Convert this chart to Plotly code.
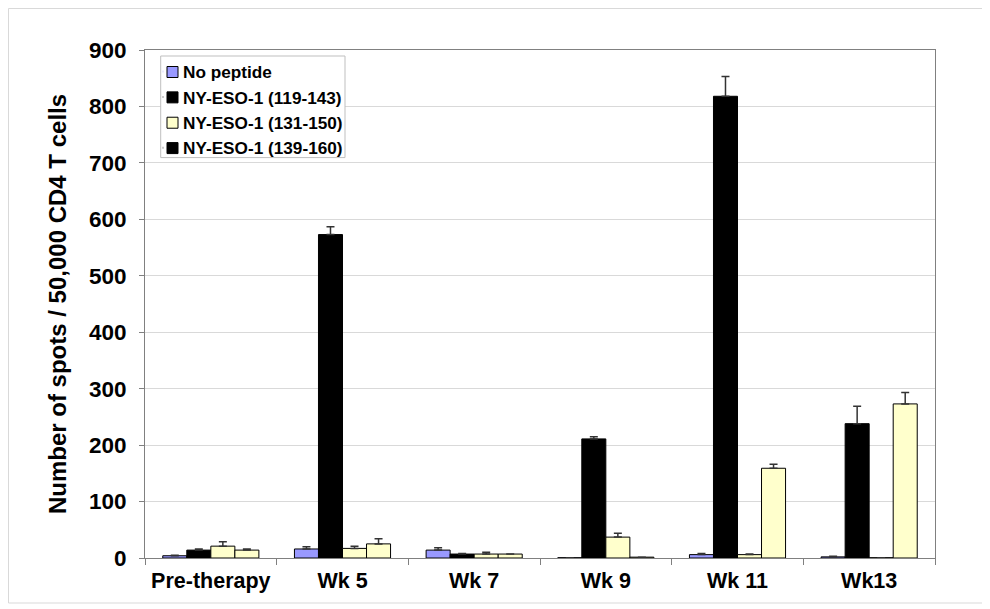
import plotly.graph_objects as go

categories = ["Pre-therapy", "Wk 5", "Wk 7", "Wk 9", "Wk 11", "Wk13"]
series_names = ["No peptide", "NY-ESO-1 (119-143)", "NY-ESO-1 (131-150)", "NY-ESO-1 (139-160)"]

no_peptide = [4, 16, 14, 0.5, 6, 2]
no_peptide_err = [1, 4, 4, 0, 2, 1]
ny_119_143 = [14, 573, 7, 211, 818, 238]
ny_119_143_err = [2, 14, 1, 4, 35, 31]
ny_131_150 = [21, 17, 7, 37, 6, 0.5]
ny_131_150_err = [8, 4, 3, 7, 1, 0]
ny_139_160 = [14, 25, 7, 1.5, 159, 273]
ny_139_160_err = [2, 9, 0, 0, 7, 20]

y_ticks = [0, 100, 200, 300, 400, 500, 600, 700, 800, 900]

bar_colors = ["#9999FF", "#000000", "#FFFFCC", "#FFFFCC"]
legend_colors = ["#9999FF", "#000000", "#FFFFCC", "#000000"]

values = [no_peptide, ny_119_143, ny_131_150, ny_139_160]
errors = [no_peptide_err, ny_119_143_err, ny_131_150_err, ny_139_160_err]

FONT = "Liberation Sans, Arial, sans-serif"
LEG_FONT = 17.2

fig = go.Figure()
for i, (name, vals, errs) in enumerate(zip(series_names, values, errors)):
    fig.add_trace(go.Bar(
        x=categories, y=vals, name=name, showlegend=False,
        marker=dict(color=bar_colors[i], line=dict(color="#000000", width=1)),
        error_y=dict(type="data", array=errs, arrayminus=[0] * len(errs),
                     symmetric=False, color="#333333", thickness=1.5, width=4),
    ))

# legend text entries (swatches drawn below as shapes, like the original)
for i, name in enumerate(series_names):
    fig.add_trace(go.Scatter(
        x=[None], y=[None], name=name, mode="markers",
        marker=dict(symbol="square", size=1, opacity=0, color=legend_colors[i]),
    ))

# page has an 8px body margin, so the figure is laid out in page coords minus 8
W, H = 982, 601
L, R, T, B = 137, 55, 42, 51
pw, ph = W - L - R, H - T - B


def px(xf):
    return (xf - L) / pw


def py(yf):
    return (H - B - yf) / ph


# legend geometry (figure pixels)
leg_left_native = 135
leg_top_native = 45.9
row0 = 64.0
row_step = LEG_FONT * 1.3 + 3
n = len(series_names)
box = dict(x0=152.7, x1=337, y0=48, y1=row0 + (n - 1) * row_step + 9.5)

shapes = [dict(
    type="rect", xref="paper", yref="paper",
    x0=px(0.5), x1=px(976), y0=py(595), y1=py(0.5),
    line=dict(color="#D9D9D9", width=1), fillcolor="rgba(0,0,0,0)", layer="below",
)]
shapes.append(dict(
    type="rect", xref="paper", yref="paper",
    x0=px(box["x0"]), x1=px(box["x1"]), y0=py(box["y1"]), y1=py(box["y0"]),
    line=dict(color="#BFBFBF", width=1), fillcolor="white", layer="above",
))
for i in range(n):
    cy = row0 + i * row_step
    shapes.append(dict(
        type="rect", xref="paper", yref="paper",
        x0=px(159), x1=px(170), y0=py(cy + 5.5), y1=py(cy - 5.5),
        line=dict(color="#000000", width=1), fillcolor=legend_colors[i], layer="above",
    ))

fig.update_layout(
    width=W, height=H,
    margin=dict(l=L, r=R, t=T, b=B),
    paper_bgcolor="white", plot_bgcolor="white",
    barmode="group", bargap=0.27, bargroupgap=0,
    font=dict(family=FONT, color="#000000"),
    legend=dict(
        x=px(leg_left_native), y=py(leg_top_native), xanchor="left", yanchor="top",
        bgcolor="rgba(0,0,0,0)", borderwidth=0,
        font=dict(family=FONT, size=LEG_FONT, color="#000000", weight="bold"),
        itemwidth=30,
    ),
    xaxis=dict(
        type="category", showgrid=False, ticks="outside", tickson="boundaries",
        ticklen=6, tickcolor="#808080", showline=True, linecolor="#808080",
        linewidth=1, mirror=True, ticklabelstandoff=3,
        tickfont=dict(family=FONT, size=21.5, color="#000000", weight="bold"),
    ),
    yaxis=dict(
        range=[0, 900], tickvals=y_ticks, showgrid=True, gridcolor="#D9D9D9",
        gridwidth=1, ticks="outside", ticklen=5, tickcolor="#808080",
        showline=True, linecolor="#808080", linewidth=1, mirror=True,
        zeroline=False, ticklabelstandoff=8,
        tickfont=dict(family=FONT, size=22.5, color="#000000", weight="bold"),
        title=dict(text="Number of spots / 50,000 CD4 T cells", standoff=15,
                   font=dict(family=FONT, size=24, color="#000000", weight="bold")),
    ),
    shapes=shapes,
)

fig.write_html("out.html")
